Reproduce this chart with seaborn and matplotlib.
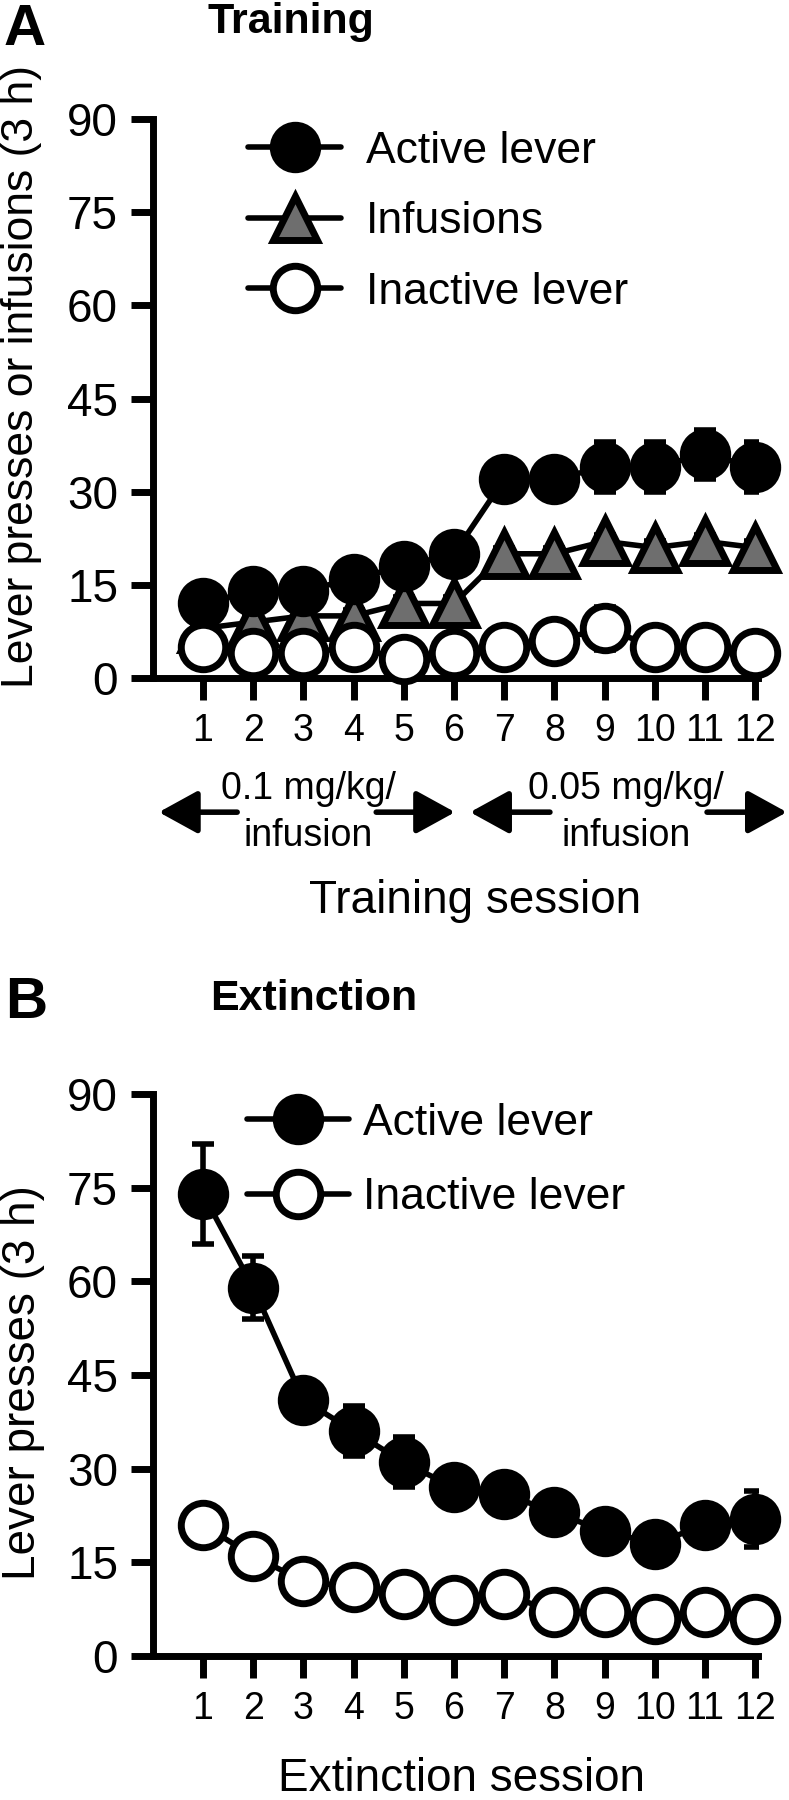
import matplotlib
matplotlib.use("Agg")
import matplotlib.pyplot as plt
import seaborn as sns

sessions = [1, 2, 3, 4, 5, 6, 7, 8, 9, 10, 11, 12]
y_ticks = [0, 15, 30, 45, 60, 75, 90]

# A - training
train_active = [12, 14, 14, 16, 18, 20, 32, 32, 34, 34, 36, 34]
train_active_sem = [1, 1, 1, 1, 1, 1, 1, 1, 4, 4, 4, 4]
train_infusions = [8, 9, 10, 10, 12, 12, 20, 20, 22, 21, 22, 21]
train_infusions_sem = [1, 1, 1, 1, 1, 1, 1, 1, 1, 1, 1, 1]
train_inactive = [5, 4, 4, 5, 3, 4, 5, 6, 8, 5, 5, 4]
train_inactive_sem = [1, 1, 1, 1, 1, 1, 1, 1, 3.5, 1, 1, 1]

# B - extinction
ext_active = [74, 59, 41, 36, 31, 27, 26, 23, 20, 18, 21, 22]
ext_active_sem = [8, 5, 2, 4, 4, 1.5, 1.5, 1.5, 1.5, 1.5, 1.5, 4.5]
ext_inactive = [21, 16, 12, 11, 10, 9, 10, 7, 7, 6, 7, 6]
ext_inactive_sem = [1, 1, 1, 1, 1, 1, 1, 1, 1, 1, 1, 1]

sns.set_style("ticks")
plt.rcParams['font.family'] = ['Liberation Sans', 'DejaVu Sans']
plt.rcParams['text.color'] = 'black'
plt.rcParams['axes.labelcolor'] = 'black'
plt.rcParams['xtick.color'] = 'black'
plt.rcParams['ytick.color'] = 'black'
plt.rcParams['axes.edgecolor'] = 'black'

fig = plt.figure(figsize=(7.89, 18), dpi=100)
axA = fig.add_axes([0.1937, 0.62333, 0.7667, 0.31056])
axB = fig.add_axes([0.1937, 0.08, 0.7667, 0.3122])


def draw_series(ax, y, sem, label, marker, face, z):
    ax.errorbar(sessions, y, yerr=sem, fmt='none', ecolor='black', elinewidth=4,
                capsize=8, capthick=4, zorder=z - 0.5)
    sns.lineplot(x=sessions, y=y, ax=ax, label=label, color='black', lw=4,
                 marker=marker, markersize=32, markerfacecolor=face,
                 markeredgecolor='black', markeredgewidth=5, zorder=z, clip_on=False)


def style_axis(ax):
    ax.set_xlim(0, 12.05)
    ax.set_ylim(0, 90)
    ax.set_xticks(sessions)
    ax.set_yticks(y_ticks)
    for s in ['top', 'right']:
        ax.spines[s].set_visible(False)
    for s in ['left', 'bottom']:
        ax.spines[s].set_linewidth(5)
        ax.spines[s].set_color('black')
    ax.tick_params(axis='both', direction='out', length=16, width=5, color='black',
                   labelcolor='black')
    ax.tick_params(axis='y', labelsize=33, pad=9)
    ax.tick_params(axis='x', labelsize=27, pad=9)


def order_legend(ax, labels, spacing, textpad, hlen, anchor):
    h, l = ax.get_legend_handles_labels()
    lookup = dict(zip(l, h))
    ax.legend([lookup[k] for k in labels], labels, loc='upper left', frameon=False,
              fontsize=32, labelspacing=spacing, handletextpad=textpad,
              handlelength=hlen, borderpad=0, borderaxespad=0,
              bbox_to_anchor=anchor, bbox_transform=fig.transFigure)


# panel A
draw_series(axA, train_infusions, train_infusions_sem, 'Infusions', '^', '#6e6e6e', 3)
draw_series(axA, train_active, train_active_sem, 'Active lever', 'o', 'black', 4)
draw_series(axA, train_inactive, train_inactive_sem, 'Inactive lever', 'o', 'white', 5)
style_axis(axA)
axA.set_ylabel('Lever presses or infusions (3 h)', fontsize=32)
axA.yaxis.set_label_coords(-0.183, 0.54)
axA.set_xlabel('Training session', fontsize=33)
axA.xaxis.set_label_coords(0.533, -0.36)
order_legend(axA, ['Active lever', 'Infusions', 'Inactive lever'], 0.66, 0.55, 2.1,
             (0.3143, 0.9272))

# dose annotations under the training axis
dose_y = -21.6
for txt, xc in [('0.1 mg/kg/\ninfusion', 3.09), ('0.05 mg/kg/\ninfusion', 9.42)]:
    axA.text(xc, dose_y, txt, ha='center', va='center', fontsize=27,
             linespacing=1.4, clip_on=False)
for tail, tip in [(1.68, 0.12), (4.45, 6.02), (7.91, 6.32), (11.04, 12.63)]:
    axA.annotate('', xy=(tip, dose_y), xytext=(tail, dose_y), annotation_clip=False,
                 arrowprops=dict(arrowstyle='-|>,head_length=0.4,head_width=0.22',
                                 lw=4, color='black', mutation_scale=60,
                                 shrinkA=0, shrinkB=0))

# panel B
draw_series(axB, ext_active, ext_active_sem, 'Active lever', 'o', 'black', 4)
draw_series(axB, ext_inactive, ext_inactive_sem, 'Inactive lever', 'o', 'white', 5)
style_axis(axB)
axB.set_ylabel('Lever presses (3 h)', fontsize=33)
axB.yaxis.set_label_coords(-0.178, 0.486)
axB.set_xlabel('Extinction session', fontsize=33)
axB.xaxis.set_label_coords(0.51, -0.18)
order_legend(axB, ['Active lever', 'Inactive lever'], 0.75, 0.3, 2.3, (0.313, 0.3872))

# panel letters and titles
fig.text(0.004, 0.975, 'A', fontsize=42, fontweight='bold')
fig.text(0.2636, 0.98167, 'Training', fontsize=31, fontweight='bold')
fig.text(0.006, 0.43444, 'B', fontsize=42, fontweight='bold')
fig.text(0.266, 0.43889, 'Extinction', fontsize=31, fontweight='bold')

fig.savefig('out.png', dpi=100)
